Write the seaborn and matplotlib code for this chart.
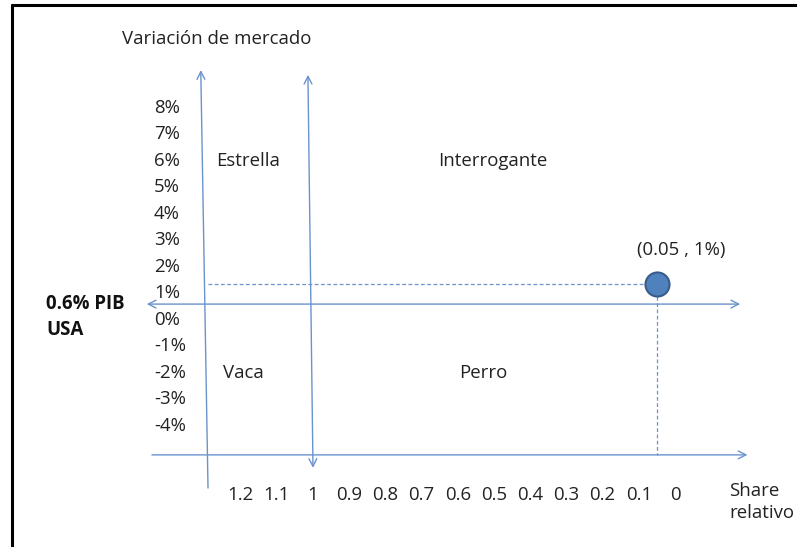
import matplotlib
matplotlib.use("Agg")
import matplotlib.pyplot as plt
import seaborn as sns
import pandas as pd

# datos de la matriz BCG
growth_ticks = [8, 7, 6, 5, 4, 3, 2, 1, 0, -1, -2, -3, -4]
growth_labels = ["8%", "7%", "6%", "5%", "4%", "3%", "2%", "1%", "0%", "-1%", "-2%", "-3%", "-4%"]
share_ticks = [1.2, 1.1, 1.0, 0.9, 0.8, 0.7, 0.6, 0.5, 0.4, 0.3, 0.2, 0.1, 0.0]
share_labels = ["1.2", "1.1", "1", "0.9", "0.8", "0.7", "0.6", "0.5", "0.4", "0.3", "0.2", "0.1", "0"]
quadrants = ["Estrella", "Interrogante", "Vaca", "Perro"]
point_share = [0.05]
point_growth = [1.35]
point_label = "(0.05 , 1%)"
gdp_growth = 0.6      # divisor horizontal: 0.6% PIB USA
share_split = 1.0     # divisor vertical

sns.set_theme(style="white")
plt.rcParams["font.family"] = ["Open Sans", "DejaVu Sans"]

fig = plt.figure(figsize=(7.97, 5.47), dpi=100)
ax = fig.add_axes([0, 0, 1, 1])
# escala: share invertido, crecimiento en %
ax.set_xlim(1.8646, -0.337)
ax.set_ylim(-8.566, 12.075)
ax.axis("off")

blue = "#6A93CC"
txt = "#222222"
fs = 13.4

def arrow(x0, y0, x1, y1, style):
    ax.annotate("", xy=(x1, y1), xytext=(x0, y0),
                arrowprops=dict(arrowstyle=style + ",head_length=0.55,head_width=0.28",
                                color=blue, lw=1.0, shrinkA=0, shrinkB=0,
                                mutation_scale=10))

# ejes y divisores
arrow(1.29, -6.34, 1.31, 9.43, "->")
arrow(share_split, -5.58, share_split + 0.014, 9.25, "<->")
arrow(1.459, gdp_growth, -0.18, gdp_growth, "<->")
arrow(1.445, -5.09, -0.2, -5.09, "->")

# punto y líneas guía
ax.plot([1.29, point_share[0]], [point_growth[0], point_growth[0]],
        ls=(0, (3, 2)), color=blue, lw=0.9)
ax.plot([point_share[0], point_share[0]], [point_growth[0], -5.09],
        ls=(0, (3, 2)), color=blue, lw=0.9)
df = pd.DataFrame({"share": point_share, "growth": point_growth})
sns.scatterplot(data=df, x="share", y="growth", ax=ax, s=300,
                color="#4F81BD", edgecolor="#385D8A", linewidth=1.5, zorder=5)
ax.text(-0.017, 2.64, point_label, ha="center", va="center", fontsize=fs, color=txt)

# etiquetas de ejes
for v, lab in zip(growth_ticks, growth_labels):
    ax.text(1.439, v, lab, ha="left", va="center", fontsize=fs, color=txt)
for v, lab in zip(share_ticks, share_labels):
    ax.text(v, -6.6, lab, ha="center", va="center", fontsize=fs, color=txt)

ax.text(1.5276, 10.6, "Variación de mercado", ha="left", va="center", fontsize=fs, color=txt)
ax.text(-0.149, -6.87, "Share\nrelativo", ha="left", va="center", fontsize=fs,
        color=txt, linespacing=1.25)
ax.text(1.7376, 0.1, "0.6% PIB\nUSA", ha="left", va="center", fontsize=fs,
        fontweight="bold", color="#111111", linespacing=1.4)

# nombres de cuadrantes
q_x = [1.268, 0.655, 1.249, 0.597]
q_y = [6, 6, -2, -2]
for name, x, y in zip(quadrants, q_x, q_y):
    ax.text(x, y, name, ha="left", va="center", fontsize=fs, color=txt)

# marco negro superior e izquierdo
fig.add_artist(plt.Line2D([11.5 / 797, 1], [1 - 5 / 547, 1 - 5 / 547],
                          color="black", lw=2.2, transform=fig.transFigure))
fig.add_artist(plt.Line2D([11.5 / 797, 11.5 / 797], [0, 1 - 5 / 547],
                          color="black", lw=2.2, transform=fig.transFigure))

fig.savefig("out.png", dpi=100)
